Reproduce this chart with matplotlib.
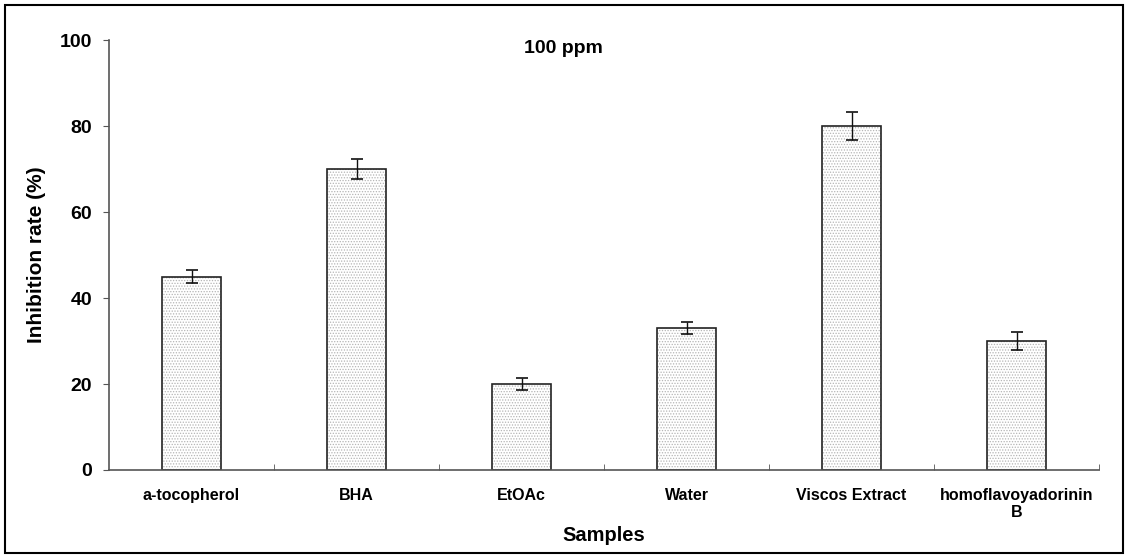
import numpy as np
import matplotlib.pyplot as plt
from matplotlib.patches import Rectangle

plt.rcParams['font.family'] = ['Liberation Sans', 'DejaVu Sans']
plt.rcParams['hatch.linewidth'] = 0.6

# data
samples = ["a-tocopherol", "BHA", "EtOAc", "Water", "Viscos Extract", "homoflavoyadorinin\nB"]
inhibition = [45, 70, 20, 33, 80, 30]
errors = [1.6, 2.4, 1.3, 1.4, 3.3, 2.1]

fig = plt.figure(figsize=(11.25, 5.56), dpi=100)
ax = fig.add_axes([0.0969, 0.1547, 0.88, 0.773])

x = np.arange(len(samples))
w = 0.36
# dotted fill
ax.bar(x, inhibition, width=w, color="white", edgecolor="#b5b5b5", hatch="......", linewidth=0)
# outline + error bars
ax.bar(x, inhibition, width=w, fill=False, edgecolor="#222222", linewidth=1.2,
       yerr=errors, error_kw=dict(ecolor="#111111", elinewidth=1, capsize=4, capthick=1.2))

ax.set_xlim(-0.5, len(samples) - 0.5)
ax.set_ylim(0, 100)
ax.set_yticks([0, 20, 40, 60, 80, 100])

for s in ["top", "right"]:
    ax.spines[s].set_visible(False)
for s in ["left", "bottom"]:
    ax.spines[s].set_color("#555555")
    ax.spines[s].set_linewidth(1.2)

ax.set_xticks(x)
ax.set_xticklabels(samples, fontsize=11.5, fontweight="bold")
ax.tick_params(axis="x", length=0, pad=13)
ax.set_xticks(np.arange(0.5, len(samples)), minor=True)
ax.tick_params(axis="x", which="minor", direction="in", length=4, color="#555555")
ax.tick_params(axis="y", direction="out", length=4, color="#555555", labelsize=14, pad=8)
for lab in ax.get_yticklabels():
    lab.set_fontweight("bold")

ax.set_ylabel("Inhibition rate (%)", fontsize=15, fontweight="bold", labelpad=10)
ax.set_xlabel("Samples", fontsize=14.5, fontweight="bold", labelpad=4)

# panel label inside the plot area
x0, x1 = ax.get_xlim()
ax.text(x0 + 0.459 * (x1 - x0), 97, "100 ppm", ha="center", va="baseline",
        fontsize=14, fontweight="bold")

# outer frame
fig.patches.append(Rectangle((0.004, 0.006), 0.994, 0.985, transform=fig.transFigure,
                             fill=False, edgecolor="black", linewidth=1.5))

fig.savefig("out.png", dpi=100)
